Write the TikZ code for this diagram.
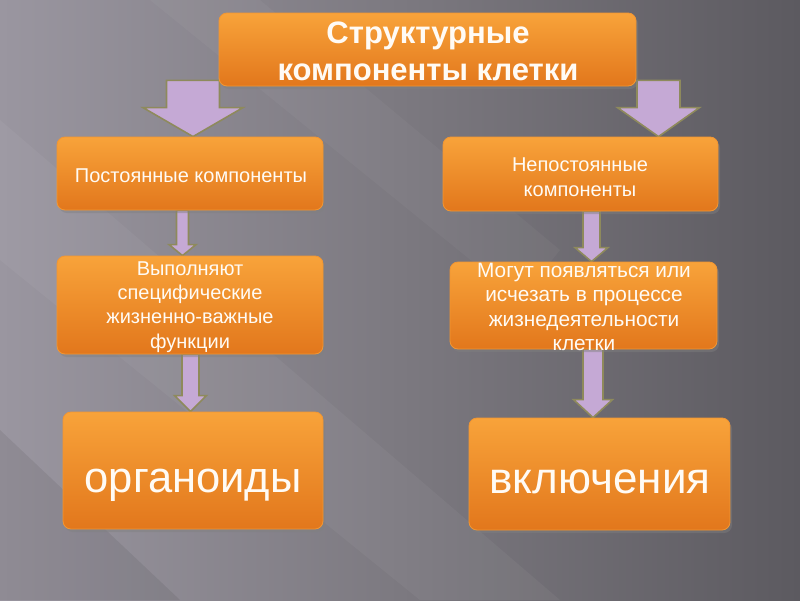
\documentclass[tikz,border=0pt]{standalone}
\usepackage{fontspec}
\setmainfont{Liberation Sans}
\usetikzlibrary{calc,shadows}
\pgfdeclarelayer{bg}
\pgfdeclarelayer{arr}
\pgfsetlayers{bg,arr,main}
\definecolor{bgL}{HTML}{9A96A0}
\definecolor{bgM}{HTML}{7C7980}
\definecolor{bgR}{HTML}{5C5A60}
\definecolor{orTop}{HTML}{F8A33A}
\definecolor{orBot}{HTML}{E2771C}
\definecolor{orEdge}{HTML}{F29632}
\definecolor{arFill}{HTML}{C5A9D5}
\definecolor{arEdge}{HTML}{8E8A5C}
\definecolor{txtW}{HTML}{FFFBF5}
\tikzset{
  box/.style={rectangle, rounded corners=8pt, top color=orTop, bottom color=orBot,
    draw=orEdge, line width=0.8pt, inner sep=0pt,
    drop shadow={opacity=0.45, shadow xshift=2pt, shadow yshift=-3pt}},
  txt/.style={text=txtW, align=center, inner sep=0pt},
  arrowshape/.style={fill=arFill, draw=arEdge, line width=1.6pt, line join=miter},
}
\newcommand\fatarrow[7]{%
  \path[arrowshape] let \p1=(#2), \p2=(#4) in
    (#1pt-#5pt,\y1+#3pt) -- (#1pt+#5pt,\y1+#3pt) -- (#1pt+#5pt,\y2+#7pt)
    -- (#1pt+#6pt,\y2+#7pt) -- (#1pt,\y2) -- (#1pt-#6pt,\y2+#7pt)
    -- (#1pt-#5pt,\y2+#7pt) -- cycle;}
\begin{document}
\begin{tikzpicture}[x=1pt,y=-1pt]
\begin{pgfonlayer}{bg}
  \shade[left color=bgL, right color=bgR, middle color=bgM] (0,0) rectangle (800,600);
  \fill[white, opacity=0.045] (0,120) -- (0,260) -- (420,600) -- (560,600) -- cycle;
  \fill[white, opacity=0.035] (150,0) -- (260,0) -- (560,250) -- (520,300) -- cycle;
  \fill[black, opacity=0.07] (0,430) -- (0,600) -- (180,600) -- cycle;
\end{pgfonlayer}
\useasboundingbox (0,0) rectangle (800,600);

% boxes
\node[box, minimum width=417pt, minimum height=73pt] (title) at (427.5,49.5) {};
\node[txt, font=\fontsize{31}{37}\selectfont\bfseries] (titleT) at (428,51.5) {Структурные\\компоненты клетки};

\node[box, minimum width=266pt, minimum height=73pt] (l1) at (190,173.5) {};
\node[txt, font=\fontsize{20}{25}\selectfont] (l1T) at (191,176) {Постоянные компоненты};

\node[box, minimum width=275pt, minimum height=74pt] (r1) at (580.5,174) {};
\node[txt, font=\fontsize{20}{25}\selectfont] (r1T) at (580,177.5) {Непостоянные\\компоненты};

\node[box, minimum width=266pt, minimum height=98pt] (l2) at (190,305) {};
\node[txt, font=\fontsize{20}{24.3}\selectfont] (l2T) at (190,307) {Выполняют\\специфические\\жизненно-важные\\функции};

\node[box, minimum width=267pt, minimum height=87pt] (r2) at (583.5,305.5) {};
\node[txt, font=\fontsize{20.8}{24.3}\selectfont] (r2T) at (584,307) {Могут появляться или\\исчезать в процессе\\жизнедеятельности\\клетки};

\node[box, minimum width=260pt, minimum height=117pt] (l3) at (193,470.5) {};
\node[txt, font=\fontsize{43.5}{48}\selectfont] (l3T) at (193,485) {органоиды};

\node[box, minimum width=261pt, minimum height=112pt] (r3) at (599.5,474) {};
\node[txt, font=\fontsize{44}{48}\selectfont] (r3T) at (600,482) {включения};

% arrows
\begin{pgfonlayer}{arr}
  \fatarrow{193}{title.south}{6}{l1.north}{26.5}{50}{29}
  \fatarrow{658.5}{title.south}{6}{r1.north}{21.5}{41}{29}
  \fatarrow{182.5}{l1.south}{0}{l2.north}{6}{13.5}{11}
  \fatarrow{591.5}{r1.south}{0}{r2.north}{8.5}{16.5}{14}
  \fatarrow{190.5}{l2.south}{0}{l3.north}{8.5}{16}{16}
  \fatarrow{593}{r2.south}{0}{r3.north}{10}{19.5}{18}
\end{pgfonlayer}
\end{tikzpicture}
\end{document}
